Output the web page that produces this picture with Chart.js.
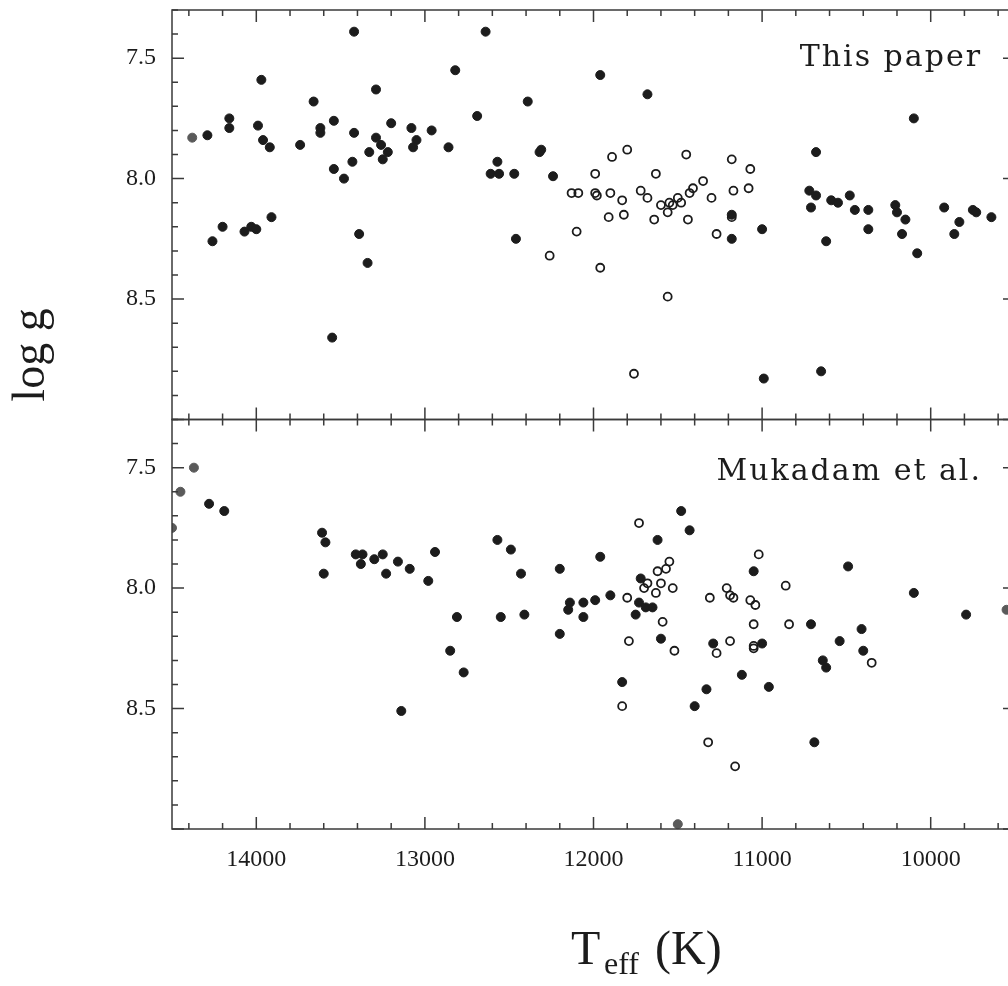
<!DOCTYPE html>
<html>
<head>
<meta charset="utf-8">
<title>log g vs Teff</title>
<script src="https://cdn.jsdelivr.net/npm/chart.js@4.4.0/dist/chart.umd.min.js"></script>
<style>
  html, body { margin: 0; padding: 0; background: #fff; overflow: hidden; }
  #chart { display: block; }
</style>
</head>
<body>
<canvas id="chart" width="1030" height="986"></canvas>
<script>
// Top panel ("This paper"): Teff (K) and log g, filled and open symbols
const topFilledTeff = [14290, 14160, 14160, 13970, 13990, 13960, 13920, 13420, 13660, 13740,
  13620, 13620, 13540, 13420, 13290, 13290, 13260, 13330, 13220, 13250,
  13430, 13540, 13480, 13200, 13080, 13050, 13070, 12960, 12860, 12820,
  13910, 14260, 14200, 14070, 14030, 14000, 13390, 13340, 13550, 12640,
  11960, 11680, 12390, 12690, 12320, 12310, 12570, 12610, 12560, 12470,
  12240, 11180, 11180, 12460, 10100, 10680, 10720, 10680, 10710, 10590,
  10550, 10480, 10450, 10370, 10210, 10200, 10150, 9920, 9750, 9730,
  9640, 9830, 11000, 10620, 10370, 10170, 9860, 10080, 10990, 10650];
const topFilledLogg = [7.82, 7.75, 7.79, 7.59, 7.78, 7.84, 7.87, 7.39, 7.68, 7.86,
  7.79, 7.81, 7.76, 7.81, 7.63, 7.83, 7.86, 7.89, 7.89, 7.92,
  7.93, 7.96, 8.00, 7.77, 7.79, 7.84, 7.87, 7.80, 7.87, 7.55,
  8.16, 8.26, 8.20, 8.22, 8.20, 8.21, 8.23, 8.35, 8.66, 7.39,
  7.57, 7.65, 7.68, 7.74, 7.89, 7.88, 7.93, 7.98, 7.98, 7.98,
  7.99, 8.15, 8.25, 8.25, 7.75, 7.89, 8.05, 8.07, 8.12, 8.09,
  8.10, 8.07, 8.13, 8.13, 8.11, 8.14, 8.17, 8.12, 8.13, 8.14,
  8.16, 8.18, 8.21, 8.26, 8.21, 8.23, 8.23, 8.31, 8.83, 8.80];
const topOpenTeff = [11990, 11890, 11800, 11630, 11450, 11180, 12130, 12090, 11990, 11980,
  11900, 11830, 11720, 11680, 11600, 11550, 11530, 11500, 11480, 11430,
  11410, 11350, 11300, 11170, 11910, 11820, 11640, 11560, 11440, 11270,
  11180, 12100, 12260, 11960, 11560, 11760, 11070, 11080];
const topOpenLogg = [7.98, 7.91, 7.88, 7.98, 7.90, 7.92, 8.06, 8.06, 8.06, 8.07,
  8.06, 8.09, 8.05, 8.08, 8.11, 8.10, 8.11, 8.08, 8.10, 8.06,
  8.04, 8.01, 8.08, 8.05, 8.16, 8.15, 8.17, 8.14, 8.17, 8.23,
  8.16, 8.22, 8.32, 8.37, 8.49, 8.81, 7.96, 8.04];
const topGreyTeff = [14380];
const topGreyLogg = [7.83];

// Bottom panel ("Mukadam et al.")
const botFilledTeff = [14280, 14190, 13610, 13590, 13600, 13410, 13370, 13380, 13300, 13250,
  13230, 13160, 13090, 12980, 12940, 12810, 12850, 12770, 13140, 12570,
  12490, 12430, 12200, 11960, 11480, 11430, 11620, 12550, 12410, 12140,
  12150, 12060, 12060, 11990, 11900, 11720, 11750, 11730, 11690, 11650,
  12200, 11600, 11290, 11830, 11330, 11400, 11050, 10490, 10100, 9790,
  10710, 10410, 11000, 10540, 10400, 10640, 10620, 11120, 10960, 10690];
const botFilledLogg = [7.65, 7.68, 7.77, 7.81, 7.94, 7.86, 7.86, 7.90, 7.88, 7.86,
  7.94, 7.89, 7.92, 7.97, 7.85, 8.12, 8.26, 8.35, 8.51, 7.80,
  7.84, 7.94, 7.92, 7.87, 7.68, 7.76, 7.80, 8.12, 8.11, 8.06,
  8.09, 8.06, 8.12, 8.05, 8.03, 7.96, 8.11, 8.06, 8.08, 8.08,
  8.19, 8.21, 8.23, 8.39, 8.42, 8.49, 7.93, 7.91, 8.02, 8.11,
  8.15, 8.17, 8.23, 8.22, 8.26, 8.30, 8.33, 8.36, 8.41, 8.64];
const botOpenTeff = [11730, 11550, 11570, 11620, 11680, 11700, 11600, 11630, 11530, 11800,
  11590, 11310, 11210, 11190, 11170, 11020, 10860, 11070, 11040, 11050,
  10840, 11790, 11520, 11270, 11190, 11050, 11050, 10350, 11830, 11320, 11160];
const botOpenLogg = [7.73, 7.89, 7.92, 7.93, 7.98, 8.00, 7.98, 8.02, 8.00, 8.04,
  8.14, 8.04, 8.00, 8.03, 8.04, 7.86, 7.99, 8.05, 8.07, 8.15,
  8.15, 8.22, 8.26, 8.27, 8.22, 8.24, 8.25, 8.31, 8.49, 8.64, 8.74];
const botGreyTeff = [14370, 14450, 14500, 11500, 9550];
const botGreyLogg = [7.50, 7.60, 7.75, 8.98, 8.09];

const panelNames = ['This paper', 'Mukadam et al.'];
const xTickLabels = [14000, 13000, 12000, 11000, 10000];
const yTickLabels = ['7.5', '8.0', '8.5'];

const ink = '#1c1c1c';
const grey = '#5a5a5a';
const frameColor = '#3a3a3a';

// minor ticks every 200 K between the frame edges
const xTickValues = [];
for (let t = 9600; t <= 14400; t += 200) xTickValues.push(t);

const toPoints = (xs, ys) => xs.map((t, i) => ({ x: t, y: ys[i] }));

const filledSet = (xs, ys, axis, color) => ({
    data: toPoints(xs, ys),
    yAxisID: axis,
    pointRadius: 4.5,
    pointBorderWidth: 1,
    pointBackgroundColor: color,
    pointBorderColor: color,
    clip: { left: 0, top: 8, right: 8, bottom: 8 },
});

const openSet = (xs, ys, axis) => ({
    data: toPoints(xs, ys),
    yAxisID: axis,
    pointRadius: 4,
    pointBorderWidth: 1.8,
    pointBackgroundColor: 'rgba(0,0,0,0)',
    pointBorderColor: ink,
});

// no extra room for half-labels at the scale ends
const noEndPadding = (scale) => {
    scale.paddingTop = 0;
    scale.paddingBottom = 0;
    scale.paddingLeft = 0;
    scale.paddingRight = 0;
};

// inward ticks on all four sides of each panel, plus the panel frames
const panelFrame = {
    id: 'panelFrame',
    afterDatasetsDraw(chart) {
        const ctx = chart.ctx;
        const xs = chart.scales.x;
        const left = chart.chartArea.left;
        const right = chart.chartArea.right;
        ctx.save();
        ctx.strokeStyle = frameColor;
        ctx.lineWidth = 1.5;
        ['yTop', 'yBot'].forEach((id) => {
            const ys = chart.scales[id];
            const top = ys.top;
            const bottom = ys.bottom;
            ctx.strokeRect(left, top, right - left, bottom - top);
            ctx.beginPath();
            xs.ticks.forEach((t) => {
                const px = xs.getPixelForValue(t.value);
                const len = t.value % 1000 === 0 ? 12 : 6;
                ctx.moveTo(px, top);
                ctx.lineTo(px, top + len);
                ctx.moveTo(px, bottom);
                ctx.lineTo(px, bottom - len);
            });
            ys.ticks.forEach((t) => {
                const py = ys.getPixelForValue(t.value);
                const len = Math.round(t.value * 10) % 5 === 0 ? 12 : 6;
                ctx.moveTo(left, py);
                ctx.lineTo(left + len, py);
                ctx.moveTo(right, py);
                ctx.lineTo(right - len, py);
            });
            ctx.stroke();
        });
        ctx.restore();
    },
};

// panel names and the two axis titles
const annotations = {
    id: 'annotations',
    afterDraw(chart) {
        const ctx = chart.ctx;
        const yTop = chart.scales.yTop;
        const yBot = chart.scales.yBot;
        ctx.save();
        ctx.fillStyle = ink;

        ctx.font = '30px "DejaVu Serif"';
        ctx.letterSpacing = '2px';
        ctx.textAlign = 'right';
        ctx.textBaseline = 'alphabetic';
        ctx.fillText(panelNames[0], 982, yTop.top + 56);
        ctx.fillText(panelNames[1], 982, yBot.top + 60);
        ctx.letterSpacing = '0px';

        // y title, rotated
        ctx.save();
        ctx.translate(44, 355);
        ctx.rotate(-Math.PI / 2);
        ctx.textAlign = 'center';
        ctx.font = '46px "Liberation Serif"';
        ctx.fillText('log g', 0, 0);
        ctx.restore();

        // x title: T with subscript eff, then (K)
        ctx.textAlign = 'left';
        const base = 964;
        ctx.font = '48px "Liberation Serif"';
        ctx.fillText('T', 571, base);
        ctx.font = '32px "Liberation Serif"';
        ctx.fillText('eff', 604, base + 10);
        ctx.font = '48px "Liberation Serif"';
        ctx.fillText('(K)', 655, base);
        ctx.restore();
    },
};

const tickFont = { family: '"Liberation Serif"', size: 24 };

const yScale = (weight) => ({
    type: 'linear',
    position: 'left',
    stack: 'panels',
    stackWeight: 1,
    weight: weight,
    reverse: true,
    min: 7.3,
    max: 9.0,
    grid: { display: false, drawTicks: false },
    border: { display: false },
    afterFit: (scale) => { scale.width = 172; noEndPadding(scale); },
    ticks: {
        stepSize: 0.1,
        autoSkip: false,
        padding: 16,
        color: ink,
        font: tickFont,
        callback: (v) => (yTickLabels.includes(v.toFixed(1)) ? v.toFixed(1) : ''),
    },
});

const ctx = document.getElementById('chart').getContext('2d');
new Chart(ctx, {
    type: 'scatter',
    data: {
        datasets: [
            filledSet(topFilledTeff, topFilledLogg, 'yTop', ink),
            openSet(topOpenTeff, topOpenLogg, 'yTop'),
            filledSet(topGreyTeff, topGreyLogg, 'yTop', grey),
            filledSet(botFilledTeff, botFilledLogg, 'yBot', ink),
            openSet(botOpenTeff, botOpenLogg, 'yBot'),
            filledSet(botGreyTeff, botGreyLogg, 'yBot', grey),
        ],
    },
    options: {
        responsive: false,
        animation: false,
        events: [],
        layout: { padding: { top: 10, right: 15, bottom: 0, left: 0 } },
        plugins: { legend: { display: false }, tooltip: { enabled: false } },
        scales: {
            x: {
                type: 'linear',
                position: 'bottom',
                reverse: true,
                min: 9500,
                max: 14500,
                grid: { display: false, drawTicks: false },
                border: { display: false },
                afterBuildTicks: (scale) => { scale.ticks = xTickValues.map((v) => ({ value: v })); },
                afterFit: (scale) => { scale.height = 157; noEndPadding(scale); },
                ticks: {
                    autoSkip: false,
                    maxRotation: 0,
                    padding: 16,
                    color: ink,
                    font: tickFont,
                    callback: (v) => (xTickLabels.includes(v) ? String(v) : ''),
                },
            },
            yTop: yScale(2),
            yBot: yScale(1),
        },
    },
    plugins: [panelFrame, annotations],
});
</script>
</body>
</html>
